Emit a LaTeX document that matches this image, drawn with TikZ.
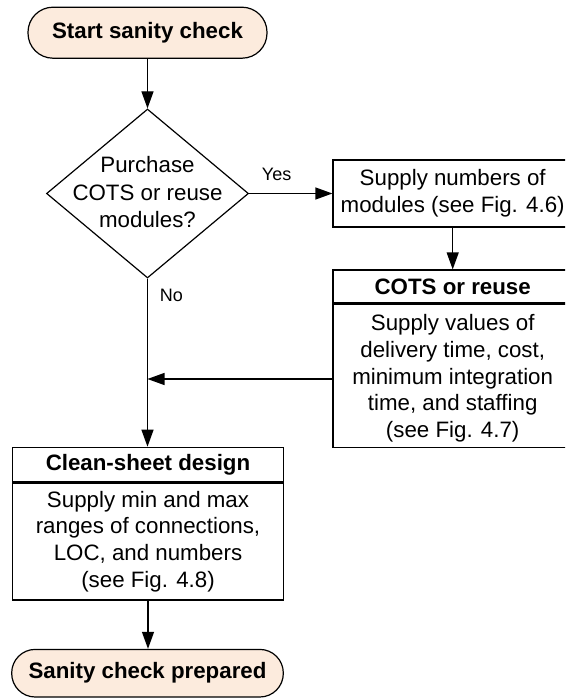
\documentclass[tikz,border=0pt]{standalone}
\usepackage{fontspec}
\setmainfont{Liberation Sans}
\usetikzlibrary{arrows.meta,shapes.geometric,calc}
\definecolor{termfill}{HTML}{FCEBDD}
\begin{document}
\begin{tikzpicture}[x=1pt,y=-1pt,
  txt/.style={font=\fontsize{22.3}{26.7}\selectfont},
  terminal/.style={draw, line width=1.2pt, fill=termfill, inner sep=0pt,
    font=\fontsize{22.3}{26.7}\selectfont\bfseries},
  box/.style={draw, line width=1.2pt, inner sep=0pt, align=center,
    font=\fontsize{22.3}{26.7}\selectfont},
  headbox/.style={box, font=\fontsize{22.3}{26.7}\selectfont\bfseries},
  flow/.style={line width=1.2pt, -{Triangle[length=17pt,width=12pt]}},
  lbl/.style={font=\fontsize{18}{21}\selectfont}
]
\useasboundingbox (0,0) rectangle (565,698);
\clip (0,0) rectangle (565,698);

% start terminal
\node[terminal, minimum width=239pt, minimum height=51pt, rounded corners=25pt]
  (start) at (147.5,32.7) {Start sanity check};

% decision
\node[draw, line width=1.2pt, diamond, minimum width=202pt, minimum height=169pt, inner sep=0pt]
  (dec) at (147.5,193.5) {};
\node[align=center, font=\fontsize{22.3}{27.5}\selectfont]
  (dectext) at (147.5,192.5) {Purchase\\COTS or reuse\\modules?};

% COTS / reuse branch
\node[box, minimum width=239.4pt, minimum height=67pt]
  (supply) at (452.7,193.5) {Supply numbers of\\modules (see Fig. 4.6)};
\node[headbox, minimum width=239.4pt, minimum height=33pt]
  (cotsh) at (452.7,286.5) {COTS or reuse};
\node[box, minimum width=239.4pt, minimum height=143pt, anchor=north]
  (cotsb) at (cotsh.south) {};
\node[align=center, txt] (cotstext) at (452.7,378.3)
  {Supply values of\\delivery time, cost,\\minimum integration\\time, and staffing\\(see Fig. 4.7)};

% clean-sheet branch
\node[headbox, minimum width=270.6pt, minimum height=34.4pt]
  (cleanh) at (148,464.5) {Clean-sheet design};
\node[box, minimum width=270.6pt, minimum height=117pt, anchor=north]
  (cleanb) at (cleanh.south) {Supply min and max\\ranges of connections,\\LOC, and numbers\\(see Fig. 4.8)};

% end terminal
\node[terminal, minimum width=271.6pt, minimum height=47.6pt, rounded corners=23.5pt]
  (endt) at (147.5,673.2) {Sanity check prepared};

% connectors
\draw[flow] (start.south) -- (dec.north);
\draw[flow] (dec.east) -- (supply.west);
\node[lbl] (yes) at ($(dec.east)+(27.5,-19)$) {Yes};
\draw[flow] (supply.south) -- (supply.south |- cotsh.north);
\draw[flow] (dec.south) -- (dec.south |- cleanh.north);
\node[lbl] (no) at ($(dec.south)+(24,17)$) {No};
\coordinate (join) at (147.5,379);
\draw[flow] (cotsb.west |- join) -- (join);
\draw[flow] (cleanb.south) -- (cleanb.south |- endt.north);
\end{tikzpicture}
\end{document}
